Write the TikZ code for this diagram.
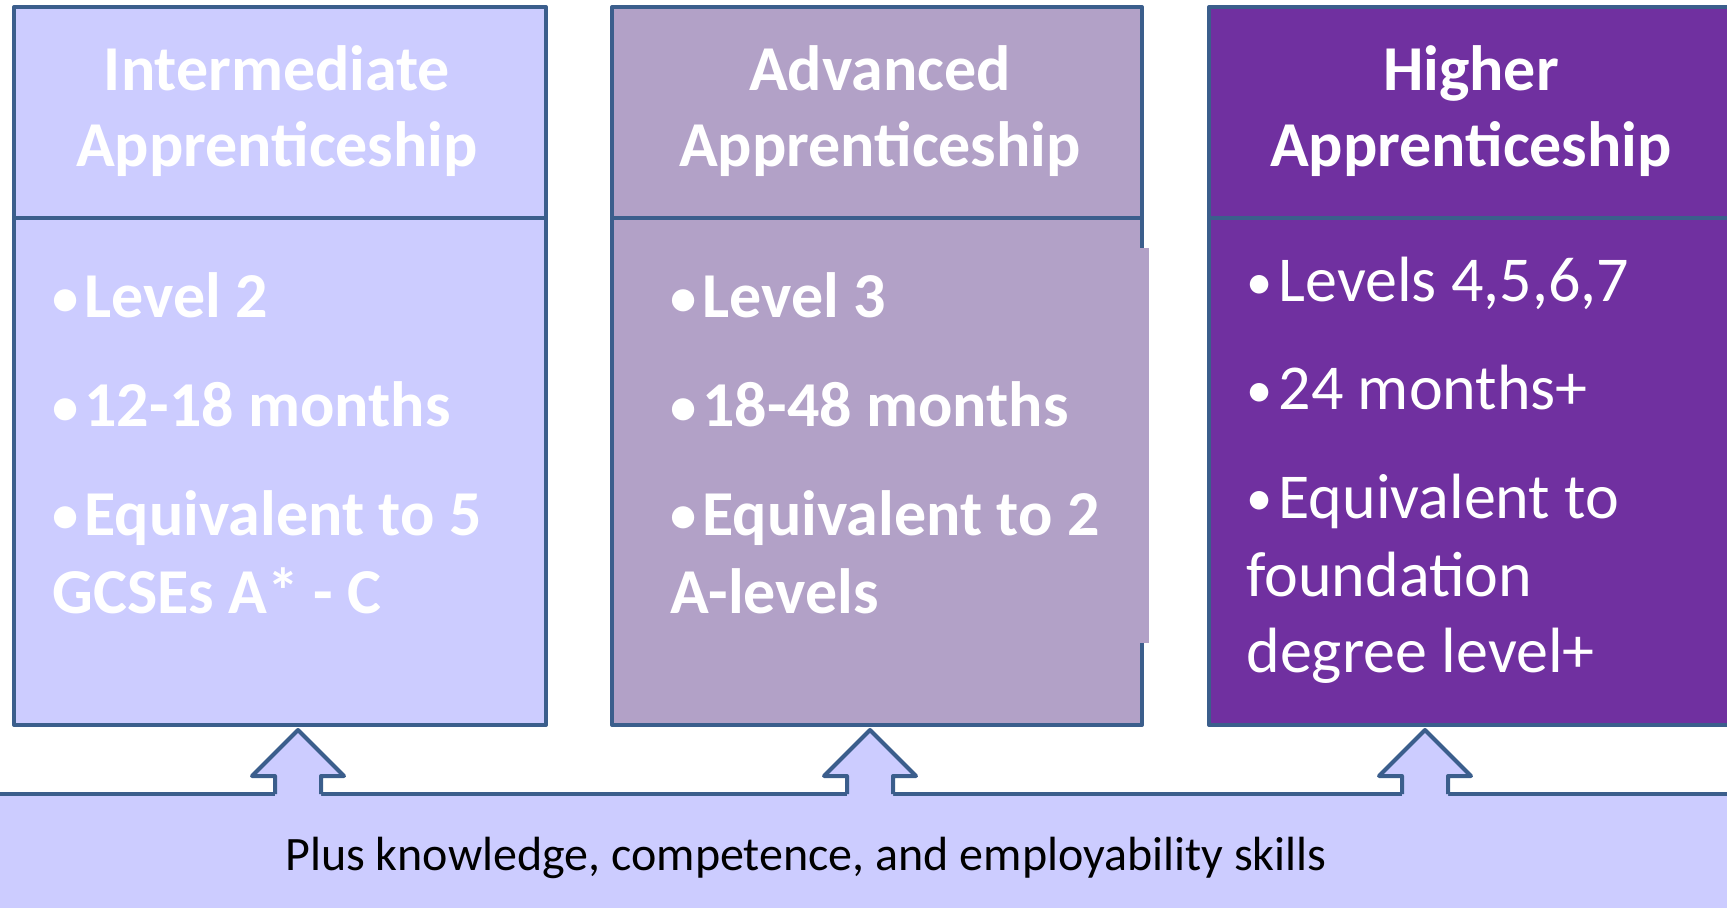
\documentclass[tikz,border=0pt]{standalone}
\usepackage{fontspec}
\setmainfont{Carlito}
\definecolor{edge}{HTML}{3B5E8C}
\definecolor{lavender}{HTML}{CCCCFF}
\definecolor{mauve}{HTML}{B2A1C7}
\definecolor{plum}{HTML}{7030A0}
\newcommand\bul{\raisebox{0.08ex}{\scalebox{0.82}{•}}\kern3pt}
\begin{document}
\begin{tikzpicture}[x=0.5pt,y=-0.5pt,
    frame/.style={draw=edge,line width=2pt,line join=round},
    title/.style={anchor=base,inner sep=0pt,text=white,font=\fontsize{32}{38}\selectfont\bfseries},
    point/.style={anchor=base west,inner sep=0pt,text=white,font=\fontsize{32}{38}\selectfont\bfseries}]
  \clip (0,0) rectangle (1727,908);
  % band along the bottom
  \fill[lavender] (-5,794) rectangle (1740,915);
  \draw[frame] (-5,794) -- (1740,794);
  \node[anchor=base,inner sep=0pt,font=\fontsize{24}{28}\selectfont] (extra) at (806,870)
    {Plus knowledge, competence, and employability skills};
  % the three columns
  \draw[frame,fill=lavender] (14,7) rectangle (546,725);
  \draw[frame] (14,218) -- (546,218);
  \draw[frame,fill=mauve] (612,7) rectangle (1142,725);
  \draw[frame] (612,218) -- (1142,218);
  \fill[mauve] (1138,248) rectangle (1149,643);
  \draw[frame,fill=plum] (1209,7) rectangle (1733,725);
  \draw[frame] (1209,218) -- (1733,218);
  % titles
  \node[title] (interA) at (277,91) {Intermediate};
  \node[title] (interB) at (277,167) {Apprenticeship};
  \node[title] (advA) at (880,91) {Advanced};
  \node[title] (advB) at (880,167) {Apprenticeship};
  \node[title] (highA) at (1471,91) {Higher};
  \node[title] (highB) at (1471,167) {Apprenticeship};
  % bullet points
  \foreach \y/\t in {318/{\bul Level 2},427/{\bul 12-18 months},535/{\bul Equivalent to 5},613/{GCSEs A* - C}}
    \node[point] (inter-\y) at (52,\y) {\t};
  \foreach \y/\t in {318/{\bul Level 3},427/{\bul 18-48 months},535/{\bul Equivalent to 2},613/{A-levels}}
    \node[point] (adv-\y) at (670,\y) {\t};
  \foreach \y/\t in {302/{\bul Levels 4,5,6,7},410/{\bul 24 months+},518/{\bul Equivalent to},596/{foundation},672/{degree level+}}
    \node[point,font=\fontsize{32}{38}\selectfont] (high-\y) at (1246,\y) {\t};
  % block arrows up from the band
  \foreach \cx in {298,870,1425} {
    \fill[lavender] (\cx-23,798) -- (\cx-23,776) -- (\cx-46,776) -- (\cx,730)
      -- (\cx+46,776) -- (\cx+23,776) -- (\cx+23,798) -- cycle;
    \draw[frame] (\cx-23,794) -- (\cx-23,776) -- (\cx-46,776) -- (\cx,730)
      -- (\cx+46,776) -- (\cx+23,776) -- (\cx+23,794);
  }
\end{tikzpicture}
\end{document}
